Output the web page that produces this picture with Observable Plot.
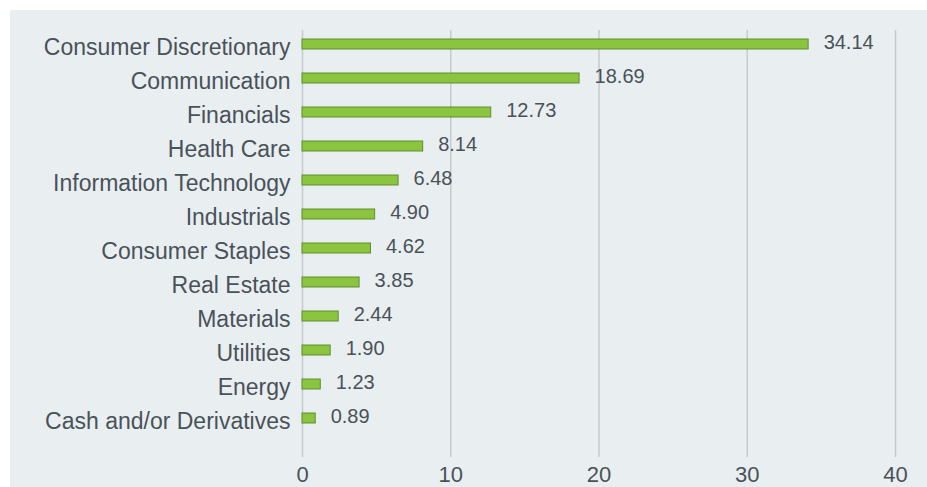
<!DOCTYPE html>
<html><head><meta charset="utf-8">
<script src="https://cdn.jsdelivr.net/npm/d3@7"></script>
<script src="https://cdn.jsdelivr.net/npm/@observablehq/plot@0.6"></script>
<style>
body{margin:0;background:#fff;}
#wrap{position:absolute;left:10px;top:10px;width:917px;height:477px;background:#e9eef1;overflow:hidden}
</style></head><body><div id="wrap"></div>
<script>
const sectors = ["Consumer Discretionary","Communication","Financials","Health Care","Information Technology","Industrials","Consumer Staples","Real Estate","Materials","Utilities","Energy","Cash and/or Derivatives"];
const weights = [34.14, 18.69, 12.73, 8.14, 6.48, 4.90, 4.62, 3.85, 2.44, 1.90, 1.23, 0.89];
const xTicks = [0, 10, 20, 30, 40];
const data = sectors.map((s, i) => ({sector: s, weight: weights[i]}));
const txt = "#4a5259";
const chart = Plot.plot({
  width: 917, height: 477,
  marginLeft: 292, marginRight: 32, marginTop: 20, marginBottom: 30,
  style: {background: "transparent", fontFamily: "'Liberation Sans', Arial, sans-serif", color: txt},
  x: {domain: [0, 40], ticks: xTicks},
  y: {domain: sectors, range: [17, 425], paddingInner: 0.7, paddingOuter: 0.35},
  marks: [
    Plot.ruleX(xTicks, {stroke: "#c6c9cc", strokeWidth: 1.5}),
    Plot.barX(data, {x: "weight", y: "sector", fill: "#8bc53f", stroke: "#5f8f2e", strokeWidth: 1}),
    Plot.ruleX([0], {y2: [sectors[sectors.length - 1]], stroke: "#1a1a1a", strokeWidth: 1.2, insetBottom: 10}),
    Plot.text(data, {x: "weight", y: "sector", text: d => d.weight.toFixed(2), dx: 15, dy: -2, textAnchor: "start", fontSize: 20, fill: txt}),
    Plot.axisX({ticks: xTicks, tickSize: 0, tickPadding: 9, fontSize: 22, label: null, fill: txt}),
    Plot.axisY({tickSize: 0, tickPadding: 12, fontSize: 23, label: null, dy: 3, fill: txt})
  ]
});
document.getElementById("wrap").appendChild(chart);
</script></body></html>
